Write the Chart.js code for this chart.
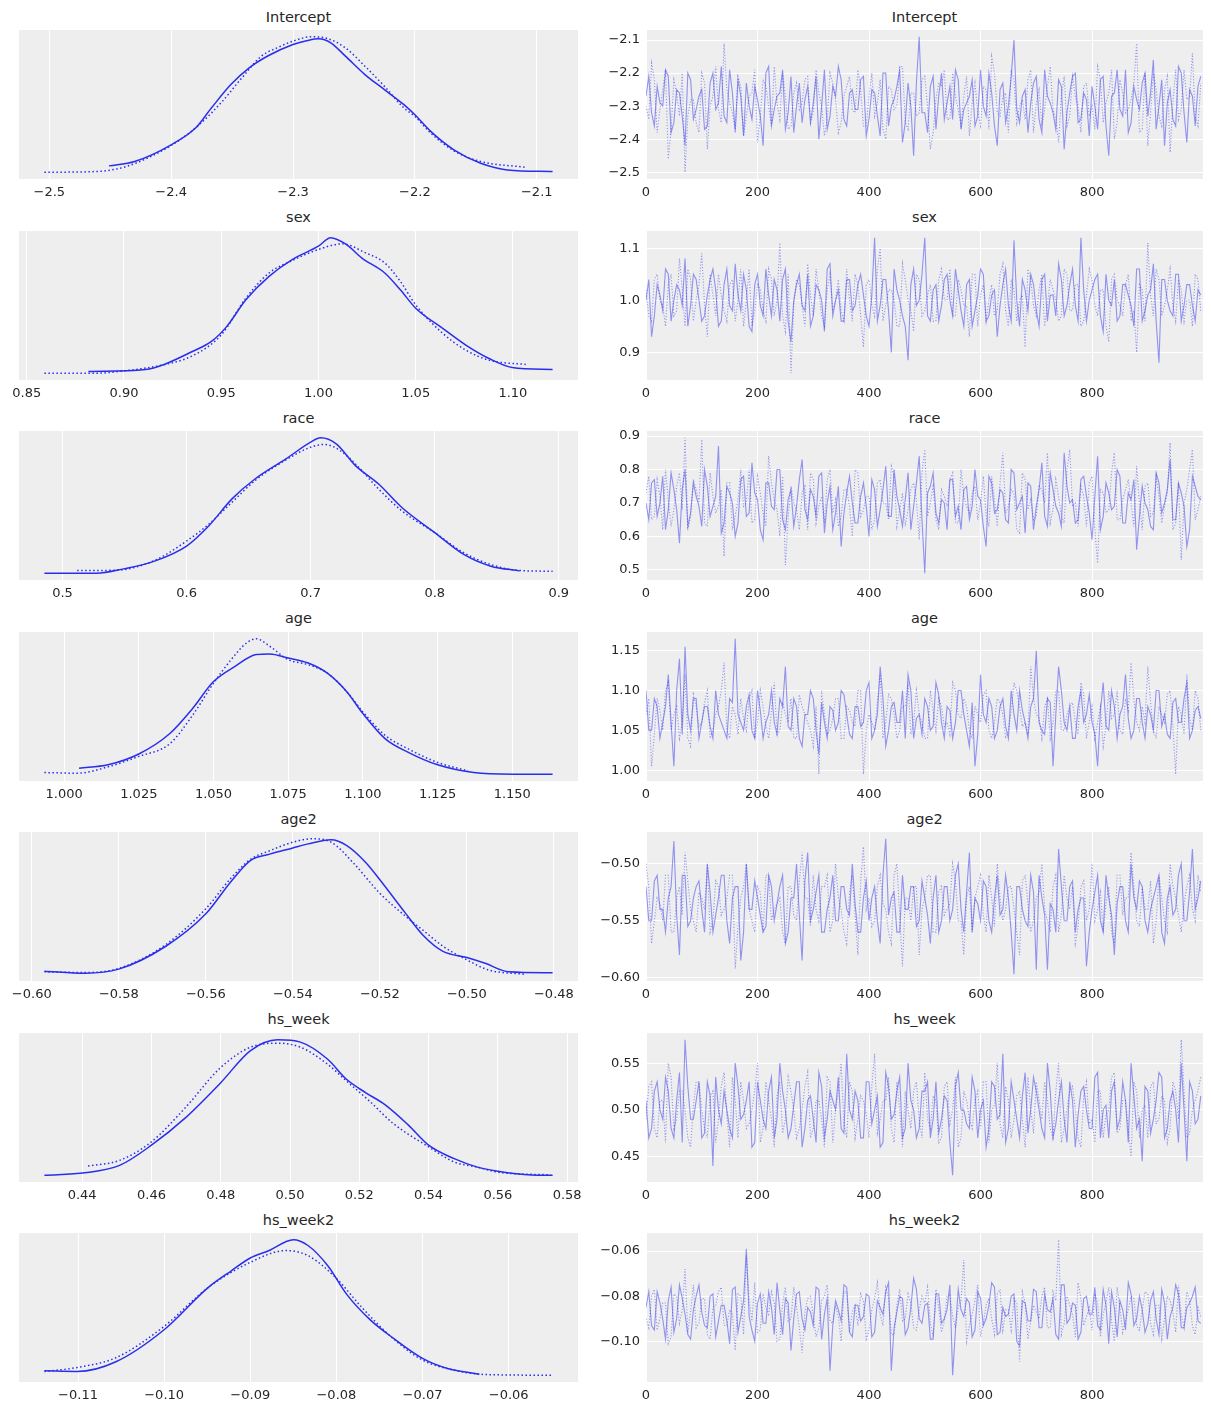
<!DOCTYPE html>
<html><head><meta charset="utf-8">
<script src="https://cdn.jsdelivr.net/npm/chart.js@4.4.1/dist/chart.umd.min.js"></script>
<style>
body{margin:0;background:#fff;width:1211px;height:1411px;position:relative;overflow:hidden;font-family:"DejaVu Sans",sans-serif;}
.t{position:absolute;font-size:14.5px;color:#262626;text-align:center;line-height:16px;height:16px;white-space:nowrap;}
canvas{position:absolute;}
</style></head><body>
<script>
// ---------------- DATA ----------------
const params = ['Intercept','sex','race','age','age2','hs_week','hs_week2'];

// KDE curves (x = parameter value, y = relative density)
const interceptKdeSolidX = [-2.451,-2.430,-2.400,-2.380,-2.367,-2.351,-2.336,-2.320,-2.300,-2.288,-2.279,-2.269,-2.257,-2.241,-2.225,-2.209,-2.200,-2.187,-2.168,-2.146,-2.124,-2.087];
const interceptKdeSolidY = [19,32,82,132,192,262,312,349,382,394,399,387,347,292,247,202,172,122,67,27,7,2];
const interceptKdeDotX = [-2.504,-2.462,-2.437,-2.400,-2.377,-2.358,-2.342,-2.326,-2.313,-2.300,-2.285,-2.272,-2.257,-2.241,-2.225,-2.209,-2.200,-2.187,-2.168,-2.146,-2.110];
const interceptKdeDotY = [0,2,17,80,142,212,282,347,372,392,405,400,372,317,257,192,167,117,64,32,15];

const sexKdeSolidX = [0.8817,0.9111,0.9210,0.9349,0.9448,0.9528,0.9627,0.9746,0.9865,1.0000,1.0063,1.0143,1.0222,1.0341,1.0421,1.0500,1.0639,1.0758,1.0877,1.0996,1.1204];
const sexKdeSolidY = [5,11,27,64,94,139,219,289,339,379,404,384,344,299,249,194,134,84,44,17,11];
const sexKdeDotX = [0.8591,0.8853,0.9000,0.9210,0.9349,0.9500,0.9627,0.9746,0.9865,1.0000,1.0123,1.0242,1.0341,1.0421,1.0500,1.0639,1.0758,1.0877,1.1066];
const sexKdeDotY = [0,0,7,26,51,114,224,299,336,369,386,359,329,274,204,119,69,39,26];

const raceKdeSolidX = [0.4854,0.5274,0.5492,0.5741,0.6000,0.6178,0.6364,0.6551,0.6801,0.7000,0.7081,0.7206,0.7361,0.7548,0.7735,0.8000,0.8234,0.8452,0.8685];
const raceKdeSolidY = [1,1,14,37,82,142,222,282,342,392,405,387,322,267,197,122,57,22,8];
const raceKdeDotX = [0.5118,0.5430,0.5741,0.6000,0.6178,0.6364,0.6551,0.6801,0.7000,0.7112,0.7237,0.7361,0.7548,0.7735,0.8000,0.8234,0.8452,0.8685,0.8950];
const raceKdeDotY = [9,10,39,97,147,212,277,339,377,385,367,327,252,187,122,62,27,9,7];

const ageKdeSolidX = [1.0050,1.0147,1.0250,1.0353,1.0430,1.0500,1.0572,1.0643,1.0688,1.0750,1.0817,1.0881,1.0946,1.1000,1.1075,1.1152,1.1250,1.1371,1.1500,1.1635];
const ageKdeSolidY = [19,29,61,121,196,276,321,356,358,346,331,301,246,181,106,66,29,6,1,1];
const ageKdeDotX = [0.9934,1.0044,1.0147,1.0250,1.0353,1.0430,1.0500,1.0559,1.0611,1.0643,1.0688,1.0750,1.0817,1.0881,1.0946,1.1000,1.1075,1.1152,1.1250,1.1352];
const ageKdeDotY = [6,4,23,54,91,176,271,341,391,403,381,341,326,301,246,186,116,76,36,11];

const age2KdeSolidX = [-0.5971,-0.5878,-0.5800,-0.5692,-0.5600,-0.5542,-0.5497,-0.5453,-0.5400,-0.5365,-0.5312,-0.5276,-0.5232,-0.5200,-0.5143,-0.5099,-0.5055,-0.5000,-0.4958,-0.4904,-0.4803];
const age2KdeSolidY = [9,3,15,82,177,272,334,352,370,382,394,377,327,277,182,112,67,49,32,7,4];
const age2KdeDotX = [-0.5971,-0.5878,-0.5800,-0.5692,-0.5600,-0.5542,-0.5497,-0.5453,-0.5400,-0.5356,-0.5312,-0.5258,-0.5200,-0.5143,-0.5099,-0.5055,-0.5000,-0.4949,-0.4869];
const age2KdeDotY = [7,5,17,87,192,282,337,362,387,397,387,322,237,172,127,82,42,12,0];

const hsWeekKdeSolidX = [0.4291,0.4408,0.4508,0.4600,0.4697,0.4800,0.4886,0.4964,0.5030,0.5108,0.5163,0.5219,0.5274,0.5341,0.5400,0.5474,0.5541,0.5600,0.5697,0.5758];
const hsWeekKdeSolidY = [1,8,30,90,170,275,370,402,395,345,285,245,210,150,90,50,25,13,2,1];
const hsWeekKdeDotX = [0.4417,0.4508,0.4600,0.4697,0.4800,0.4886,0.4964,0.5030,0.5108,0.5163,0.5230,0.5297,0.5400,0.5474,0.5541,0.5600,0.5752];
const hsWeekKdeDotY = [28,45,100,200,320,380,392,380,330,280,220,155,85,40,25,10,2];

const hsWeek2KdeSolidX = [-0.1139,-0.1101,-0.1056,-0.1000,-0.0949,-0.0922,-0.0900,-0.0878,-0.0850,-0.0833,-0.0810,-0.0788,-0.0761,-0.0734,-0.0700,-0.0671,-0.0634];
const hsWeek2KdeSolidY = [13,11,40,135,260,310,348,370,402,385,325,240,165,110,50,20,3];
const hsWeek2KdeDotX = [-0.1139,-0.1101,-0.1056,-0.1000,-0.0949,-0.0900,-0.0859,-0.0833,-0.0801,-0.0770,-0.0739,-0.0700,-0.0663,-0.0627,-0.0549];
const hsWeek2KdeDotY = [11,23,52,145,260,335,370,355,290,200,120,45,15,2,0];

// Trace samples, thinned: "A" = draws 0,10,20,...,990 ; "B" = draws 5,15,...,995
const interceptTrace1A = [-2.27,-2.32,-2.24,-2.30,-2.21,-2.35,-2.26,-2.42,-2.22,-2.31,-2.25,-2.36,-2.20,-2.29,-2.33,-2.19,-2.38,-2.27,-2.23,-2.34,-2.28,-2.42,-2.18,-2.31,-2.26,-2.37,-2.21,-2.30,-2.35,-2.24,-2.29,-2.40,-2.19,-2.33,-2.27,-2.22,-2.36,-2.25,-2.31,-2.21,-2.34,-2.26,-2.39,-2.20,-2.30,-2.24,-2.41,-2.23,-2.45,-2.09,-2.32,-2.24,-2.37,-2.20,-2.29,-2.34,-2.22,-2.31,-2.27,-2.36,-2.19,-2.33,-2.26,-2.42,-2.23,-2.30,-2.10,-2.35,-2.25,-2.29,-2.21,-2.38,-2.27,-2.32,-2.22,-2.43,-2.26,-2.20,-2.34,-2.28,-2.24,-2.37,-2.21,-2.45,-2.26,-2.31,-2.19,-2.35,-2.28,-2.23,-2.33,-2.16,-2.30,-2.42,-2.25,-2.36,-2.20,-2.41,-2.27,-2.24];
const interceptTrace1B = [-2.21,-2.36,-2.29,-2.19,-2.38,-2.25,-2.33,-2.20,-2.34,-2.27,-2.37,-2.23,-2.31,-2.18,-2.35,-2.26,-2.22,-2.39,-2.30,-2.24,-2.33,-2.20,-2.36,-2.27,-2.19,-2.32,-2.38,-2.23,-2.28,-2.35,-2.21,-2.30,-2.37,-2.24,-2.18,-2.34,-2.26,-2.31,-2.22,-2.39,-2.25,-2.33,-2.20,-2.36,-2.28,-2.19,-2.35,-2.30,-2.23,-2.32,-2.38,-2.21,-2.27,-2.34,-2.24,-2.19,-2.37,-2.29,-2.22,-2.33,-2.30,-2.20,-2.36,-2.25,-2.35,-2.21,-2.31,-2.27,-2.38,-2.23,-2.34,-2.19,-2.29,-2.37,-2.24,-2.32,-2.21,-2.35,-2.26,-2.39,-2.30,-2.22,-2.36,-2.27,-2.19,-2.33,-2.38,-2.24,-2.31,-2.20,-2.26,-2.37,-2.22,-2.29,-2.34,-2.18,-2.32,-2.25,-2.36,-2.21];
const interceptTrace2A = [-2.30,-2.17,-2.38,-2.25,-2.46,-2.22,-2.33,-2.50,-2.28,-2.35,-2.20,-2.43,-2.27,-2.31,-2.11,-2.29,-2.37,-2.24,-2.33,-2.26,-2.41,-2.22,-2.30,-2.18,-2.34,-2.27,-2.36,-2.23,-2.29,-2.21,-2.32,-2.26,-2.39,-2.20,-2.28,-2.35,-2.24,-2.31,-2.19,-2.36,-2.27,-2.33,-2.22,-2.40,-2.25,-2.30,-2.18,-2.37,-2.26,-2.32,-2.21,-2.43,-2.28,-2.24,-2.34,-2.20,-2.31,-2.27,-2.39,-2.23,-2.36,-2.25,-2.15,-2.32,-2.27,-2.38,-2.22,-2.30,-2.34,-2.19,-2.29,-2.36,-2.24,-2.31,-2.41,-2.21,-2.33,-2.27,-2.38,-2.23,-2.30,-2.18,-2.35,-2.26,-2.40,-2.22,-2.32,-2.28,-2.11,-2.37,-2.42,-2.20,-2.33,-2.25,-2.44,-2.19,-2.31,-2.28,-2.14,-2.36];
const interceptTrace2B = [-2.34,-2.22,-2.31,-2.19,-2.37,-2.26,-2.20,-2.33,-2.28,-2.38,-2.23,-2.30,-2.18,-2.35,-2.25,-2.32,-2.21,-2.39,-2.27,-2.19,-2.33,-2.24,-2.36,-2.29,-2.20,-2.37,-2.26,-2.31,-2.22,-2.35,-2.19,-2.30,-2.34,-2.23,-2.38,-2.27,-2.21,-2.32,-2.25,-2.36,-2.20,-2.29,-2.37,-2.24,-2.31,-2.18,-2.35,-2.26,-2.33,-2.22,-2.30,-2.38,-2.23,-2.19,-2.34,-2.27,-2.36,-2.21,-2.29,-2.32,-2.24,-2.37,-2.20,-2.33,-2.26,-2.19,-2.35,-2.28,-2.22,-2.38,-2.25,-2.31,-2.18,-2.34,-2.27,-2.36,-2.21,-2.30,-2.24,-2.33,-2.37,-2.22,-2.29,-2.19,-2.35,-2.26,-2.31,-2.23,-2.38,-2.20,-2.32,-2.25,-2.36,-2.21,-2.29,-2.34,-2.19,-2.27,-2.33,-2.23];

const sexTrace1A = [1.00,0.93,1.03,0.98,1.05,1.00,1.02,1.08,0.99,1.04,0.96,1.01,1.06,0.95,1.03,0.99,1.07,0.98,1.02,0.94,1.05,0.97,1.01,1.04,0.96,1.06,0.92,1.03,0.99,1.05,0.97,1.02,0.94,1.07,1.00,0.96,1.04,0.98,1.03,1.01,0.95,1.12,0.99,1.04,0.90,1.02,0.97,0.885,1.06,1.00,1.12,0.96,1.03,0.99,1.05,0.97,1.02,0.95,1.04,0.98,1.06,0.96,1.01,0.93,1.03,0.99,1.115,0.95,1.02,1.05,0.98,1.04,0.96,1.01,1.07,0.97,1.03,0.99,1.12,0.96,1.02,1.05,0.94,1.00,1.04,0.97,1.03,0.99,1.06,0.96,1.01,1.07,0.88,1.04,0.98,1.05,0.96,1.03,0.99,1.02];
const sexTrace1B = [1.04,0.97,1.01,1.06,0.96,1.03,0.99,0.95,1.05,1.00,0.97,1.04,1.02,0.96,1.06,0.98,1.01,1.05,0.95,1.03,0.99,1.06,0.97,1.02,1.04,0.96,1.00,1.05,0.98,0.95,1.03,1.00,1.06,0.97,1.02,0.96,1.04,0.99,1.05,0.97,1.01,0.96,1.04,0.98,1.06,1.00,0.95,1.03,0.99,1.05,0.97,1.02,0.96,1.04,1.00,1.06,0.98,1.03,0.95,1.01,1.05,0.97,1.02,0.99,1.06,0.96,1.00,1.04,0.98,1.03,0.95,1.05,1.01,0.97,1.04,0.99,1.06,0.96,1.02,1.00,1.04,0.97,1.05,0.99,0.96,1.03,1.01,0.95,1.06,0.98,1.02,0.96,1.04,1.00,0.97,1.05,0.99,1.03,0.96,1.01];
const sexTrace2A = [1.02,0.96,1.05,0.99,1.03,0.97,1.08,0.95,1.04,1.00,1.09,0.93,1.01,1.05,0.98,1.03,0.96,1.06,1.00,0.95,1.03,0.98,1.06,0.97,1.11,0.94,0.86,1.04,0.99,1.07,0.97,1.02,0.95,1.05,1.00,0.98,1.06,0.96,1.03,0.91,1.04,0.97,1.10,0.99,1.02,0.95,1.07,1.00,0.94,1.04,0.98,1.03,0.96,1.06,1.00,0.97,1.04,0.99,0.93,1.05,1.01,0.96,1.03,0.98,1.07,0.95,1.02,1.00,0.91,1.04,0.97,1.05,0.99,1.02,0.96,1.06,0.98,1.03,0.95,1.01,1.04,0.97,1.02,0.92,1.05,0.99,1.03,0.96,0.90,1.02,1.11,0.97,1.04,0.99,1.06,0.96,1.02,1.00,0.95,1.04];
const sexTrace2B = [0.97,1.04,1.00,0.95,1.05,0.98,1.02,1.06,0.96,1.03,0.99,1.05,0.97,1.01,0.96,1.04,1.00,0.95,1.06,0.98,1.02,0.96,1.04,1.00,0.97,1.05,0.99,1.03,0.95,1.01,1.06,0.97,1.02,0.98,1.04,0.96,1.00,1.05,0.97,1.03,0.99,1.06,0.96,1.02,1.00,0.95,1.04,0.98,1.05,0.97,1.01,0.96,1.04,1.00,1.06,0.97,1.02,0.99,1.05,0.95,1.03,1.00,0.97,1.05,0.98,1.04,0.96,1.01,1.06,0.99,1.02,0.95,1.04,1.00,0.97,1.05,0.98,1.03,0.96,1.06,0.99,1.02,0.95,1.04,1.00,0.97,1.05,0.98,1.03,0.96,1.01,1.06,0.97,1.02,0.99,1.04,0.96,1.00,1.05,0.98];

const raceTrace1A = [0.70,0.76,0.66,0.78,0.68,0.74,0.58,0.80,0.67,0.72,0.63,0.75,0.69,0.87,0.64,0.73,0.60,0.77,0.66,0.82,0.71,0.59,0.76,0.68,0.80,0.62,0.74,0.69,0.83,0.65,0.72,0.78,0.61,0.75,0.67,0.57,0.73,0.70,0.64,0.76,0.60,0.74,0.68,0.81,0.66,0.72,0.63,0.79,0.69,0.84,0.49,0.75,0.67,0.71,0.62,0.77,0.69,0.74,0.65,0.80,0.71,0.57,0.76,0.68,0.73,0.64,0.79,0.70,0.61,0.75,0.69,0.82,0.63,0.74,0.67,0.85,0.70,0.64,0.77,0.72,0.59,0.84,0.66,0.73,0.69,0.78,0.64,0.71,0.56,0.75,0.68,0.62,0.76,0.70,0.83,0.65,0.73,0.57,0.78,0.72];
const raceTrace1B = [0.65,0.77,0.70,0.62,0.79,0.68,0.74,0.63,0.76,0.69,0.80,0.66,0.72,0.61,0.75,0.70,0.64,0.78,0.67,0.73,0.62,0.76,0.69,0.80,0.65,0.71,0.63,0.77,0.68,0.74,0.66,0.79,0.70,0.62,0.75,0.67,0.78,0.64,0.72,0.69,0.77,0.63,0.74,0.66,0.80,0.68,0.71,0.62,0.76,0.65,0.73,0.79,0.64,0.70,0.77,0.66,0.62,0.75,0.69,0.72,0.63,0.78,0.67,0.74,0.65,0.80,0.68,0.72,0.76,0.62,0.74,0.66,0.79,0.69,0.63,0.75,0.71,0.65,0.78,0.67,0.72,0.62,0.76,0.68,0.80,0.64,0.73,0.77,0.66,0.70,0.63,0.79,0.67,0.74,0.65,0.76,0.69,0.62,0.75,0.71];
const raceTrace2A = [0.73,0.65,0.77,0.62,0.71,0.68,0.79,0.895,0.66,0.74,0.89,0.63,0.72,0.69,0.54,0.76,0.66,0.80,0.70,0.64,0.78,0.67,0.84,0.71,0.60,0.515,0.75,0.68,0.73,0.62,0.77,0.69,0.64,0.80,0.71,0.66,0.74,0.60,0.79,0.68,0.72,0.65,0.77,0.70,0.81,0.63,0.73,0.68,0.76,0.59,0.86,0.70,0.65,0.74,0.69,0.79,0.64,0.72,0.67,0.75,0.70,0.66,0.78,0.63,0.85,0.69,0.73,0.61,0.77,0.71,0.66,0.74,0.85,0.68,0.72,0.64,0.86,0.70,0.75,0.63,0.78,0.52,0.73,0.68,0.85,0.65,0.74,0.70,0.81,0.62,0.76,0.67,0.72,0.69,0.88,0.64,0.53,0.74,0.86,0.68];
const raceTrace2B = [0.78,0.66,0.72,0.80,0.63,0.75,0.68,0.62,0.77,0.70,0.64,0.79,0.67,0.74,0.76,0.62,0.71,0.69,0.80,0.65,0.73,0.63,0.76,0.68,0.78,0.66,0.70,0.62,0.75,0.79,0.64,0.72,0.77,0.67,0.63,0.74,0.69,0.80,0.66,0.72,0.62,0.76,0.70,0.65,0.78,0.68,0.63,0.74,0.71,0.79,0.66,0.75,0.62,0.72,0.77,0.64,0.80,0.69,0.73,0.65,0.78,0.63,0.71,0.76,0.67,0.74,0.62,0.79,0.68,0.65,0.75,0.70,0.64,0.77,0.66,0.80,0.69,0.63,0.72,0.76,0.62,0.74,0.67,0.79,0.65,0.71,0.77,0.63,0.70,0.75,0.66,0.78,0.64,0.73,0.62,0.76,0.70,0.80,0.65,0.72];

const ageTrace1A = [1.10,1.05,1.08,1.06,1.12,1.005,1.14,1.155,1.05,1.09,1.06,1.08,1.04,1.07,1.05,1.09,1.165,1.06,1.08,1.05,1.10,1.04,1.07,1.06,1.09,1.13,1.05,1.08,1.03,1.07,1.09,1.02,1.06,1.08,1.05,1.10,1.07,1.04,1.08,1.06,1.11,1.05,1.13,1.03,1.08,1.06,1.10,1.12,1.04,1.07,1.09,1.05,1.11,1.06,1.08,1.04,1.10,1.07,1.03,1.005,1.12,1.06,1.08,1.05,1.09,1.04,1.07,1.10,1.06,1.08,1.15,1.05,1.09,1.005,1.13,1.06,1.08,1.04,1.10,1.07,1.06,1.005,1.11,1.05,1.08,1.07,1.12,1.04,1.09,1.06,1.08,1.05,1.10,1.07,1.04,1.09,1.06,1.11,1.05,1.08];
const ageTrace1B = [1.05,1.09,1.04,1.08,1.06,1.10,1.045,1.07,1.09,1.04,1.08,1.055,1.10,1.06,1.04,1.085,1.07,1.05,1.095,1.04,1.075,1.06,1.10,1.045,1.08,1.055,1.09,1.04,1.07,1.10,1.05,1.085,1.04,1.075,1.06,1.095,1.045,1.08,1.055,1.10,1.04,1.07,1.09,1.05,1.085,1.06,1.04,1.10,1.065,1.045,1.08,1.055,1.095,1.04,1.075,1.06,1.10,1.05,1.085,1.045,1.07,1.09,1.04,1.08,1.055,1.10,1.05,1.075,1.04,1.09,1.06,1.045,1.085,1.07,1.10,1.05,1.04,1.08,1.06,1.095,1.045,1.075,1.055,1.10,1.04,1.08,1.065,1.05,1.09,1.04,1.07,1.10,1.055,1.045,1.085,1.06,1.09,1.04,1.075,1.065];
const ageTrace2A = [1.07,1.005,1.09,1.05,1.11,1.07,1.04,1.12,1.03,1.08,1.06,1.10,1.05,1.08,1.135,1.04,1.07,1.09,1.05,1.10,1.06,1.08,1.04,1.11,1.05,1.07,1.09,1.04,1.08,1.06,1.03,0.995,1.07,1.05,1.09,1.04,1.08,1.06,1.10,0.995,1.07,1.05,1.12,1.06,1.09,1.04,1.08,1.11,1.06,1.07,1.04,1.10,1.05,1.08,1.06,1.11,1.07,1.09,1.05,1.08,1.06,1.10,1.04,1.09,1.07,1.05,1.11,1.08,1.06,1.13,1.07,1.04,1.09,1.06,1.10,1.05,1.08,1.06,1.11,1.04,1.08,1.06,1.03,1.10,1.07,1.05,1.09,1.135,1.06,1.08,1.13,1.05,1.08,1.06,1.10,0.995,1.07,1.12,1.05,1.09];
const ageTrace2B = [1.09,1.045,1.075,1.10,1.05,1.08,1.06,1.04,1.095,1.055,1.085,1.04,1.07,1.10,1.05,1.08,1.045,1.065,1.09,1.04,1.10,1.055,1.075,1.045,1.085,1.06,1.04,1.095,1.07,1.05,1.08,1.10,1.045,1.065,1.09,1.04,1.075,1.055,1.10,1.05,1.06,1.085,1.04,1.095,1.07,1.05,1.08,1.045,1.10,1.06,1.04,1.075,1.09,1.055,1.045,1.10,1.065,1.08,1.04,1.07,1.095,1.05,1.06,1.085,1.04,1.075,1.10,1.055,1.045,1.09,1.065,1.08,1.04,1.10,1.05,1.07,1.085,1.045,1.095,1.06,1.04,1.08,1.055,1.065,1.10,1.045,1.075,1.09,1.05,1.06,1.085,1.04,1.07,1.095,1.055,1.08,1.045,1.065,1.10,1.05];

const age2Trace1A = [-0.52,-0.55,-0.51,-0.54,-0.53,-0.48,-0.58,-0.51,-0.55,-0.52,-0.54,-0.50,-0.56,-0.53,-0.51,-0.57,-0.52,-0.585,-0.50,-0.54,-0.53,-0.56,-0.51,-0.55,-0.52,-0.57,-0.53,-0.50,-0.585,-0.49,-0.54,-0.51,-0.56,-0.53,-0.55,-0.52,-0.54,-0.50,-0.56,-0.53,-0.55,-0.52,-0.57,-0.478,-0.53,-0.56,-0.51,-0.54,-0.52,-0.55,-0.53,-0.57,-0.51,-0.55,-0.52,-0.54,-0.50,-0.56,-0.49,-0.53,-0.55,-0.52,-0.56,-0.51,-0.54,-0.53,-0.597,-0.52,-0.55,-0.51,-0.593,-0.53,-0.593,-0.54,-0.487,-0.55,-0.52,-0.56,-0.53,-0.59,-0.54,-0.51,-0.56,-0.53,-0.58,-0.52,-0.55,-0.50,-0.54,-0.52,-0.56,-0.53,-0.51,-0.57,-0.52,-0.54,-0.50,-0.55,-0.487,-0.53];
const age2Trace1B = [-0.55,-0.515,-0.54,-0.56,-0.52,-0.545,-0.51,-0.555,-0.53,-0.515,-0.56,-0.525,-0.545,-0.51,-0.55,-0.53,-0.52,-0.56,-0.54,-0.515,-0.545,-0.555,-0.52,-0.535,-0.51,-0.56,-0.53,-0.545,-0.515,-0.55,-0.525,-0.56,-0.54,-0.51,-0.55,-0.52,-0.545,-0.535,-0.56,-0.515,-0.53,-0.55,-0.51,-0.545,-0.525,-0.56,-0.54,-0.52,-0.555,-0.515,-0.545,-0.53,-0.56,-0.52,-0.55,-0.51,-0.54,-0.525,-0.56,-0.535,-0.515,-0.55,-0.53,-0.545,-0.51,-0.56,-0.52,-0.54,-0.555,-0.525,-0.51,-0.545,-0.535,-0.56,-0.52,-0.55,-0.515,-0.54,-0.53,-0.56,-0.525,-0.55,-0.51,-0.545,-0.535,-0.52,-0.56,-0.53,-0.515,-0.55,-0.54,-0.52,-0.56,-0.53,-0.545,-0.51,-0.55,-0.525,-0.54,-0.515];
const age2Trace2A = [-0.50,-0.57,-0.53,-0.55,-0.51,-0.56,-0.52,-0.49,-0.54,-0.56,-0.53,-0.50,-0.55,-0.52,-0.54,-0.51,-0.592,-0.53,-0.50,-0.55,-0.52,-0.56,-0.51,-0.54,-0.53,-0.57,-0.52,-0.55,-0.49,-0.53,-0.51,-0.55,-0.52,-0.56,-0.50,-0.54,-0.57,-0.51,-0.58,-0.485,-0.53,-0.55,-0.51,-0.54,-0.57,-0.50,-0.59,-0.53,-0.52,-0.58,-0.53,-0.51,-0.56,-0.52,-0.54,-0.50,-0.55,-0.58,-0.52,-0.53,-0.51,-0.56,-0.53,-0.50,-0.55,-0.52,-0.54,-0.58,-0.51,-0.56,-0.53,-0.50,-0.55,-0.52,-0.56,-0.51,-0.54,-0.57,-0.52,-0.55,-0.50,-0.54,-0.56,-0.52,-0.57,-0.51,-0.53,-0.49,-0.55,-0.52,-0.54,-0.57,-0.51,-0.55,-0.50,-0.53,-0.56,-0.52,-0.54,-0.51];
const age2Trace2B = [-0.52,-0.55,-0.535,-0.51,-0.56,-0.53,-0.545,-0.515,-0.55,-0.525,-0.54,-0.56,-0.515,-0.545,-0.53,-0.51,-0.555,-0.52,-0.54,-0.56,-0.525,-0.51,-0.55,-0.535,-0.56,-0.52,-0.545,-0.515,-0.53,-0.555,-0.54,-0.52,-0.51,-0.55,-0.53,-0.56,-0.525,-0.545,-0.515,-0.54,-0.555,-0.52,-0.535,-0.56,-0.51,-0.545,-0.53,-0.55,-0.52,-0.54,-0.51,-0.56,-0.525,-0.545,-0.535,-0.515,-0.55,-0.53,-0.56,-0.52,-0.545,-0.51,-0.555,-0.53,-0.54,-0.52,-0.56,-0.515,-0.535,-0.55,-0.525,-0.54,-0.56,-0.51,-0.545,-0.53,-0.52,-0.555,-0.515,-0.54,-0.55,-0.525,-0.535,-0.56,-0.51,-0.545,-0.53,-0.52,-0.555,-0.54,-0.515,-0.55,-0.53,-0.56,-0.52,-0.545,-0.535,-0.51,-0.55,-0.525];

const hsWeekTrace1A = [0.51,0.48,0.53,0.49,0.52,0.47,0.54,0.575,0.49,0.51,0.47,0.53,0.44,0.50,0.52,0.48,0.55,0.49,0.51,0.46,0.53,0.49,0.52,0.47,0.55,0.50,0.48,0.53,0.46,0.51,0.49,0.54,0.47,0.52,0.50,0.48,0.56,0.49,0.51,0.47,0.53,0.50,0.46,0.54,0.49,0.52,0.47,0.55,0.50,0.48,0.52,0.47,0.53,0.49,0.51,0.43,0.54,0.50,0.48,0.52,0.50,0.46,0.53,0.49,0.56,0.48,0.51,0.47,0.54,0.50,0.52,0.48,0.55,0.47,0.51,0.49,0.53,0.46,0.52,0.50,0.48,0.54,0.50,0.47,0.53,0.49,0.51,0.55,0.48,0.445,0.52,0.49,0.54,0.47,0.51,0.50,0.55,0.445,0.52,0.49];
const hsWeekTrace1B = [0.47,0.52,0.50,0.535,0.48,0.51,0.465,0.525,0.49,0.53,0.475,0.515,0.535,0.485,0.50,0.47,0.525,0.495,0.53,0.465,0.51,0.48,0.535,0.49,0.52,0.47,0.505,0.53,0.48,0.515,0.465,0.525,0.49,0.51,0.535,0.475,0.50,0.52,0.47,0.53,0.485,0.515,0.465,0.525,0.495,0.535,0.48,0.51,0.47,0.52,0.53,0.49,0.475,0.515,0.465,0.525,0.50,0.485,0.535,0.47,0.51,0.48,0.525,0.495,0.465,0.53,0.49,0.515,0.475,0.535,0.50,0.47,0.52,0.485,0.53,0.465,0.51,0.495,0.525,0.48,0.535,0.47,0.505,0.52,0.48,0.53,0.465,0.515,0.49,0.525,0.475,0.51,0.535,0.48,0.52,0.465,0.50,0.53,0.485,0.515];
const hsWeekTrace2A = [0.49,0.53,0.47,0.51,0.55,0.48,0.52,0.50,0.46,0.53,0.50,0.47,0.52,0.49,0.54,0.46,0.51,0.53,0.48,0.50,0.55,0.48,0.51,0.46,0.53,0.49,0.52,0.47,0.50,0.54,0.48,0.51,0.46,0.53,0.50,0.55,0.47,0.52,0.49,0.51,0.47,0.56,0.49,0.51,0.48,0.53,0.46,0.50,0.52,0.49,0.54,0.48,0.51,0.47,0.53,0.50,0.46,0.52,0.49,0.51,0.48,0.53,0.50,0.55,0.47,0.51,0.49,0.52,0.46,0.50,0.53,0.49,0.51,0.47,0.55,0.48,0.52,0.50,0.46,0.53,0.49,0.52,0.47,0.50,0.54,0.48,0.51,0.45,0.52,0.50,0.47,0.53,0.49,0.51,0.48,0.52,0.575,0.47,0.50,0.52];
const hsWeekTrace2B = [0.525,0.48,0.51,0.465,0.535,0.49,0.52,0.47,0.505,0.53,0.48,0.515,0.465,0.525,0.495,0.535,0.47,0.51,0.485,0.52,0.465,0.53,0.49,0.515,0.475,0.535,0.50,0.48,0.525,0.47,0.51,0.49,0.535,0.465,0.52,0.485,0.53,0.47,0.515,0.495,0.525,0.475,0.51,0.535,0.465,0.50,0.52,0.48,0.53,0.47,0.49,0.515,0.465,0.525,0.485,0.535,0.47,0.51,0.48,0.52,0.53,0.465,0.505,0.485,0.525,0.47,0.515,0.49,0.535,0.475,0.51,0.53,0.48,0.52,0.465,0.50,0.525,0.47,0.515,0.485,0.465,0.52,0.495,0.535,0.475,0.51,0.48,0.53,0.47,0.505,0.525,0.485,0.515,0.465,0.53,0.49,0.52,0.475,0.51,0.535];

const hsWeek2Trace1A = [-0.085,-0.093,-0.078,-0.090,-0.082,-0.096,-0.075,-0.088,-0.099,-0.080,-0.087,-0.094,-0.079,-0.091,-0.084,-0.101,-0.076,-0.089,-0.059,-0.095,-0.083,-0.092,-0.078,-0.097,-0.086,-0.081,-0.104,-0.079,-0.090,-0.085,-0.093,-0.077,-0.088,-0.113,-0.082,-0.091,-0.076,-0.098,-0.084,-0.089,-0.080,-0.096,-0.085,-0.078,-0.113,-0.087,-0.081,-0.094,-0.072,-0.090,-0.084,-0.099,-0.079,-0.092,-0.086,-0.115,-0.077,-0.089,-0.083,-0.095,-0.081,-0.090,-0.074,-0.097,-0.085,-0.088,-0.079,-0.102,-0.083,-0.091,-0.078,-0.094,-0.086,-0.081,-0.099,-0.075,-0.090,-0.084,-0.096,-0.080,-0.088,-0.093,-0.077,-0.101,-0.085,-0.082,-0.095,-0.079,-0.090,-0.086,-0.092,-0.078,-0.097,-0.083,-0.089,-0.075,-0.094,-0.085,-0.080,-0.091];
const hsWeek2Trace1B = [-0.078,-0.095,-0.083,-0.099,-0.076,-0.090,-0.081,-0.097,-0.086,-0.075,-0.093,-0.080,-0.098,-0.084,-0.091,-0.077,-0.096,-0.082,-0.089,-0.100,-0.079,-0.092,-0.085,-0.074,-0.097,-0.083,-0.090,-0.078,-0.095,-0.087,-0.076,-0.099,-0.081,-0.093,-0.086,-0.075,-0.096,-0.084,-0.091,-0.079,-0.098,-0.082,-0.088,-0.074,-0.094,-0.080,-0.097,-0.085,-0.077,-0.092,-0.083,-0.099,-0.079,-0.090,-0.075,-0.095,-0.086,-0.081,-0.098,-0.078,-0.093,-0.084,-0.076,-0.096,-0.089,-0.080,-0.100,-0.082,-0.091,-0.077,-0.094,-0.079,-0.087,-0.097,-0.075,-0.092,-0.083,-0.099,-0.081,-0.088,-0.076,-0.095,-0.084,-0.078,-0.098,-0.086,-0.074,-0.093,-0.080,-0.096,-0.082,-0.090,-0.077,-0.099,-0.085,-0.079,-0.094,-0.083,-0.076,-0.092];
const hsWeek2Trace2A = [-0.090,-0.080,-0.095,-0.083,-0.101,-0.079,-0.092,-0.068,-0.087,-0.094,-0.081,-0.097,-0.085,-0.078,-0.093,-0.086,-0.104,-0.080,-0.062,-0.091,-0.096,-0.079,-0.088,-0.083,-0.099,-0.076,-0.090,-0.085,-0.105,-0.081,-0.089,-0.094,-0.080,-0.091,-0.084,-0.100,-0.078,-0.087,-0.093,-0.082,-0.095,-0.081,-0.088,-0.076,-0.097,-0.084,-0.091,-0.079,-0.094,-0.086,-0.083,-0.092,-0.077,-0.096,-0.080,-0.089,-0.085,-0.064,-0.093,-0.082,-0.098,-0.084,-0.090,-0.079,-0.095,-0.086,-0.081,-0.109,-0.083,-0.091,-0.087,-0.080,-0.094,-0.078,-0.055,-0.092,-0.084,-0.098,-0.081,-0.089,-0.095,-0.083,-0.088,-0.076,-0.100,-0.085,-0.091,-0.080,-0.093,-0.086,-0.079,-0.097,-0.084,-0.090,-0.082,-0.096,-0.088,-0.078,-0.093,-0.085];
const hsWeek2Trace2B = [-0.094,-0.077,-0.090,-0.083,-0.098,-0.080,-0.086,-0.096,-0.075,-0.092,-0.081,-0.099,-0.084,-0.076,-0.093,-0.088,-0.079,-0.097,-0.082,-0.074,-0.095,-0.085,-0.078,-0.100,-0.083,-0.091,-0.076,-0.094,-0.087,-0.080,-0.098,-0.082,-0.075,-0.092,-0.089,-0.078,-0.096,-0.084,-0.079,-0.099,-0.086,-0.074,-0.093,-0.081,-0.097,-0.077,-0.090,-0.083,-0.095,-0.080,-0.076,-0.098,-0.085,-0.091,-0.079,-0.094,-0.082,-0.100,-0.088,-0.075,-0.092,-0.081,-0.097,-0.077,-0.086,-0.095,-0.083,-0.078,-0.099,-0.084,-0.090,-0.076,-0.094,-0.082,-0.097,-0.080,-0.088,-0.074,-0.093,-0.085,-0.079,-0.098,-0.083,-0.091,-0.076,-0.096,-0.086,-0.081,-0.095,-0.078,-0.092,-0.084,-0.099,-0.080,-0.087,-0.075,-0.094,-0.082,-0.097,-0.089];

// Tick values / label decimals
const kdeTickValues = [[-2.5,-2.4,-2.3,-2.2,-2.1],[0.85,0.90,0.95,1.00,1.05,1.10],[0.5,0.6,0.7,0.8,0.9],[1.000,1.025,1.050,1.075,1.100,1.125,1.150],[-0.60,-0.58,-0.56,-0.54,-0.52,-0.50,-0.48],[0.44,0.46,0.48,0.50,0.52,0.54,0.56,0.58],[-0.11,-0.10,-0.09,-0.08,-0.07,-0.06]];
const kdeTickDecimals = [1,2,1,3,2,2,2];
const traceYTickValues = [[-2.5,-2.4,-2.3,-2.2,-2.1],[0.9,1.0,1.1],[0.5,0.6,0.7,0.8,0.9],[1.00,1.05,1.10,1.15],[-0.60,-0.55,-0.50],[0.45,0.50,0.55],[-0.10,-0.08,-0.06]];
const traceYTickDecimals = [1,1,1,2,2,2,2];
const traceXTickValues = [0,200,400,600,800];
const nDraws = 1000;
const thinStep = 10;

// ---------------- BUILD ----------------
const kdeSets = [
  [interceptKdeSolidX, interceptKdeSolidY, interceptKdeDotX, interceptKdeDotY],
  [sexKdeSolidX, sexKdeSolidY, sexKdeDotX, sexKdeDotY],
  [raceKdeSolidX, raceKdeSolidY, raceKdeDotX, raceKdeDotY],
  [ageKdeSolidX, ageKdeSolidY, ageKdeDotX, ageKdeDotY],
  [age2KdeSolidX, age2KdeSolidY, age2KdeDotX, age2KdeDotY],
  [hsWeekKdeSolidX, hsWeekKdeSolidY, hsWeekKdeDotX, hsWeekKdeDotY],
  [hsWeek2KdeSolidX, hsWeek2KdeSolidY, hsWeek2KdeDotX, hsWeek2KdeDotY]
];
const traceSets = [
  [[interceptTrace1A, interceptTrace1B],[interceptTrace2A, interceptTrace2B]],
  [[sexTrace1A, sexTrace1B],[sexTrace2A, sexTrace2B]],
  [[raceTrace1A, raceTrace1B],[raceTrace2A, raceTrace2B]],
  [[ageTrace1A, ageTrace1B],[ageTrace2A, ageTrace2B]],
  [[age2Trace1A, age2Trace1B],[age2Trace2A, age2Trace2B]],
  [[hsWeekTrace1A, hsWeekTrace1B],[hsWeekTrace2A, hsWeekTrace2B]],
  [[hsWeek2Trace1A, hsWeek2Trace1B],[hsWeek2Trace2A, hsWeek2Trace2B]]
];
function chainPoints(pair){
  const [a, b] = pair, pts = [];
  a.forEach((v, i) => {
    pts.push({x: i * thinStep, y: v});
    if (i < b.length) pts.push({x: i * thinStep + thinStep / 2, y: b[i]});
  });
  return pts;
}

const BLUE = '#2a2eec';
const TRACE = 'rgba(42,46,236,0.48)';
const TEXT = '#262626';
Chart.defaults.font.family = '"DejaVu Sans", sans-serif';
Chart.defaults.font.size = 13;
Chart.defaults.color = TEXT;

const LX0 = 19, LX1 = 578, RX0 = 646, RX1 = 1203, YLAB = 46;
const ROW0 = 30, STEP = 200.5, PH = 149, XAX = 26, PADT = 10, KL = 0, KR = 600;

function padRange(arrs){
  let mn = Infinity, mx = -Infinity;
  arrs.forEach(a => a.forEach(v => { if (v < mn) mn = v; if (v > mx) mx = v; }));
  const m = (mx - mn) * 0.05;
  return [mn - m, mx + m];
}
function fmt(v, d){ return v.toFixed(d).replace('-', '\u2212'); }

const bgPlugin = { id:'bg', beforeDraw(chart){
  const {ctx, chartArea:a} = chart;
  ctx.save(); ctx.fillStyle = '#eeeeee';
  ctx.fillRect(a.left, a.top, a.right - a.left, a.bottom - a.top);
  ctx.restore();
}};

function makeCanvas(left, top, w, h){
  const c = document.createElement('canvas');
  c.width = w; c.height = h;
  c.style.left = left + 'px'; c.style.top = top + 'px';
  c.style.width = w + 'px'; c.style.height = h + 'px';
  document.body.appendChild(c);
  return c;
}
function makeTitle(text, cx, cy){
  const d = document.createElement('div');
  d.className = 't'; d.textContent = text;
  d.style.left = (cx - 150) + 'px'; d.style.width = '300px';
  d.style.top = (cy - 8) + 'px';
  document.body.appendChild(d);
}

params.forEach((name, r) => {
  const top = Math.round(ROW0 + r * STEP);
  const titleY = Math.round(16.7 + r * STEP);
  makeTitle(name, (LX0 + LX1) / 2, titleY);
  makeTitle(name, (RX0 + RX1) / 2, titleY);

  // ---- KDE ----
  const [sx, sy, dx, dy] = kdeSets[r];
  const xr = padRange([sx, dx]);
  const yr = padRange([sy, dy]);
  new Chart(makeCanvas(KL, top - PADT, KR - KL, PH + XAX + PADT), {
    type: 'line',
    data: { datasets: [
      { data: sx.map((x, i) => ({x, y: sy[i]})), borderColor: BLUE, borderWidth: 1.5, pointRadius: 0, cubicInterpolationMode: 'monotone', fill: false },
      { data: dx.map((x, i) => ({x, y: dy[i]})), borderColor: BLUE, borderWidth: 1.5, borderDash: [1.5, 2.5], pointRadius: 0, cubicInterpolationMode: 'monotone', fill: false }
    ]},
    options: {
      responsive: false, animation: false, devicePixelRatio: 1,
      layout: { padding: { left: LX0 - KL, right: KR - LX1, top: PADT, bottom: 0 } },
      plugins: { legend: { display: false }, tooltip: { enabled: false } },
      scales: {
        x: { type: 'linear', min: xr[0], max: xr[1],
             grid: { color: '#ffffff', lineWidth: 1, drawTicks: false }, border: { display: false },
             afterBuildTicks: s => { s.ticks = kdeTickValues[r].map(v => ({value: v})); },
             afterFit: s => { s.height = XAX; s.paddingLeft = 0; s.paddingRight = 0; },
             ticks: { padding: 6, maxRotation: 0, autoSkip: false, callback: v => fmt(v, kdeTickDecimals[r]) } },
        y: { type: 'linear', display: false, min: yr[0], max: yr[1] }
      }
    },
    plugins: [bgPlugin]
  });

  // ---- Trace ----
  const [c1, c2] = traceSets[r];
  const tr = padRange([...c1, ...c2]);
  new Chart(makeCanvas(RX0 - YLAB, top - PADT, RX1 - RX0 + YLAB + 4, PH + XAX + PADT), {
    type: 'line',
    data: { datasets: [
      { data: chainPoints(c1), borderColor: TRACE, borderWidth: 1.1, pointRadius: 0, tension: 0, fill: false },
      { data: chainPoints(c2), borderColor: TRACE, borderWidth: 1.1, borderDash: [1.1, 1.8], pointRadius: 0, tension: 0, fill: false }
    ]},
    options: {
      responsive: false, animation: false, devicePixelRatio: 1,
      layout: { padding: { left: 0, right: 4, top: PADT, bottom: 0 } },
      plugins: { legend: { display: false }, tooltip: { enabled: false } },
      scales: {
        x: { type: 'linear', min: 0, max: nDraws - 1,
             grid: { color: '#ffffff', lineWidth: 1, drawTicks: false }, border: { display: false },
             afterBuildTicks: s => { s.ticks = traceXTickValues.map(v => ({value: v})); },
             afterFit: s => { s.height = XAX; s.paddingLeft = 0; s.paddingRight = 0; },
             ticks: { padding: 6, maxRotation: 0, autoSkip: false, callback: v => String(v) } },
        y: { type: 'linear', min: tr[0], max: tr[1],
             grid: { color: '#ffffff', lineWidth: 1, drawTicks: false }, border: { display: false },
             afterBuildTicks: s => { s.ticks = traceYTickValues[r].map(v => ({value: v})); },
             afterFit: s => { s.width = YLAB; s.paddingTop = 0; s.paddingBottom = 0; },
             ticks: { padding: 6, autoSkip: false, callback: v => fmt(v, traceYTickDecimals[r]) } }
      }
    },
    plugins: [bgPlugin]
  });
});
</script>
</body></html>
